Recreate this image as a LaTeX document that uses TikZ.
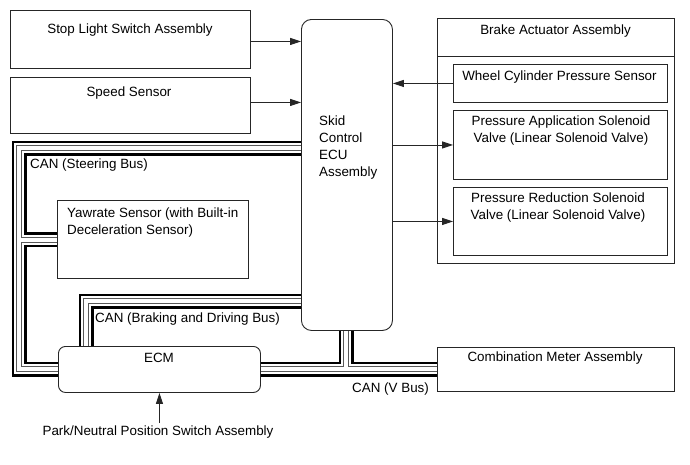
\documentclass[tikz,border=0pt]{standalone}
\usepackage{fontspec}
\setmainfont{Liberation Sans}
\usetikzlibrary{arrows.meta,calc}
\newcommand{\stackC}[1]{\vtop{\baselineskip=17pt\halign{\hfil##\hfil\cr#1\crcr}}}
\newcommand{\stackL}[1]{\vtop{\baselineskip=17pt\halign{##\hfil\cr#1\crcr}}}
\begin{document}
\begin{tikzpicture}[x=1pt,y=-1pt,
  box/.style={draw=black!85, line width=0.9pt, fill=white, inner sep=0pt, anchor=north west},
  lbl/.style={font=\fontsize{13.4}{17}\selectfont, inner sep=0pt, anchor=base},
  lbll/.style={lbl, anchor=base west},
  sig/.style={draw=black!85, line width=0.9pt, -{Triangle[length=11pt,width=7pt]}},
  bus/.style={draw=black, line width=15pt, line cap=butt, line join=miter,
    postaction={draw=white, line width=10pt},
    postaction={draw=black!65, line width=6pt},
    postaction={draw=white, line width=4pt}}]
\fill[white] (0,0) rectangle (690,464);
\useasboundingbox (0,0) rectangle (690,464);

% boxes
\node[box, minimum width=240pt, minimum height=58pt] (stop) at (10,10) {};
\node[box, minimum width=240pt, minimum height=56pt] (speed) at (10,77) {};
\node[box, rounded corners=10pt, minimum width=91pt, minimum height=311pt] (ecu) at (301,19) {};
\node[box, minimum width=237pt, minimum height=245pt] (brake) at (437,18) {};
\node[box, minimum width=214pt, minimum height=38pt] (wheel) at (453,64) {};
\node[box, minimum width=214pt, minimum height=69pt] (pas) at (453,110) {};
\node[box, minimum width=214pt, minimum height=68pt] (prs) at (453,187) {};
\node[box, minimum width=191pt, minimum height=78pt] (yaw) at (57,200) {};
\node[box, rounded corners=7pt, minimum width=202pt, minimum height=46pt] (ecm) at (58,346) {};
\node[box, minimum width=237pt, minimum height=44pt] (cm) at (437,347) {};
\coordinate (divL) at (437,56);
\draw[draw=black!85, line width=0.9pt] (divL) -- (divL -| brake.east);

% CAN buses
\coordinate (stTL) at (19,148);
\coordinate (stBL) at (19,369);
\coordinate (stY) at (19,239.5);
\draw[bus] (ecu.west |- stTL) -- (stTL) -- (stBL) -- (stBL -| ecm.west)
           (stY) -- (stY -| yaw.west);
\coordinate (brC) at (86,301);
\draw[bus] (ecu.west |- brC) -- (brC) -- (brC |- ecm.north);
\coordinate (vT) at (346,369);
\draw[bus] (ecm.east |- vT) -- (cm.west |- vT)
           (ecu.south -| vT) -- (vT);

% labels
\node[lbl] (tStop) at (130,33) {Stop Light Switch Assembly};
\node[lbl] (tSpeed) at (129,96) {Speed Sensor};
\node[lbll] (tSkid) at (319,125) {\stackL{Skid\cr Control\cr ECU\cr Assembly}};
\node[lbl] (tBrake) at (555.5,34) {Brake Actuator Assembly};
\node[lbl] (tWheel) at (559.5,80) {Wheel Cylinder Pressure Sensor};
\node[lbl] (tPas) at (561,125) {\stackC{Pressure Application Solenoid\cr Valve (Linear Solenoid Valve)}};
\node[lbl] (tPrs) at (558,202) {\stackC{Pressure Reduction Solenoid\cr Valve (Linear Solenoid Valve)}};
\node[lbll] (tYaw) at (67,217) {\stackL{Yawrate Sensor (with Built-in\cr Deceleration Sensor)}};
\node[lbl] (tEcm) at (159,362) {ECM};
\node[lbl] (tCm) at (555,361) {Combination Meter Assembly};
\node[lbl] (park) at (158,435) {Park/Neutral Position Switch Assembly};
\node[lbll] (cSt) at (30,168) {CAN (Steering Bus)};
\node[lbll] (cBr) at (95,322) {CAN (Braking and Driving Bus)};
\node[lbll] (cV) at (352,392) {CAN (V Bus)};

% signal arrows
\draw[sig] ([yshift=-2pt]stop.east) -- ([yshift=-2pt]stop.east -| ecu.west);
\draw[sig] ([yshift=3pt]speed.east) -- ([yshift=3pt]speed.east -| ecu.west);
\draw[sig] (wheel.west) -- (wheel.west -| ecu.east);
\draw[sig] (pas.west -| ecu.east) -- (pas.west);
\draw[sig] (prs.west -| ecu.east) -- (prs.west);
\draw[sig, shorten <=2pt] (ecm.south |- park.north) -- (ecm.south);
\end{tikzpicture}
\end{document}
